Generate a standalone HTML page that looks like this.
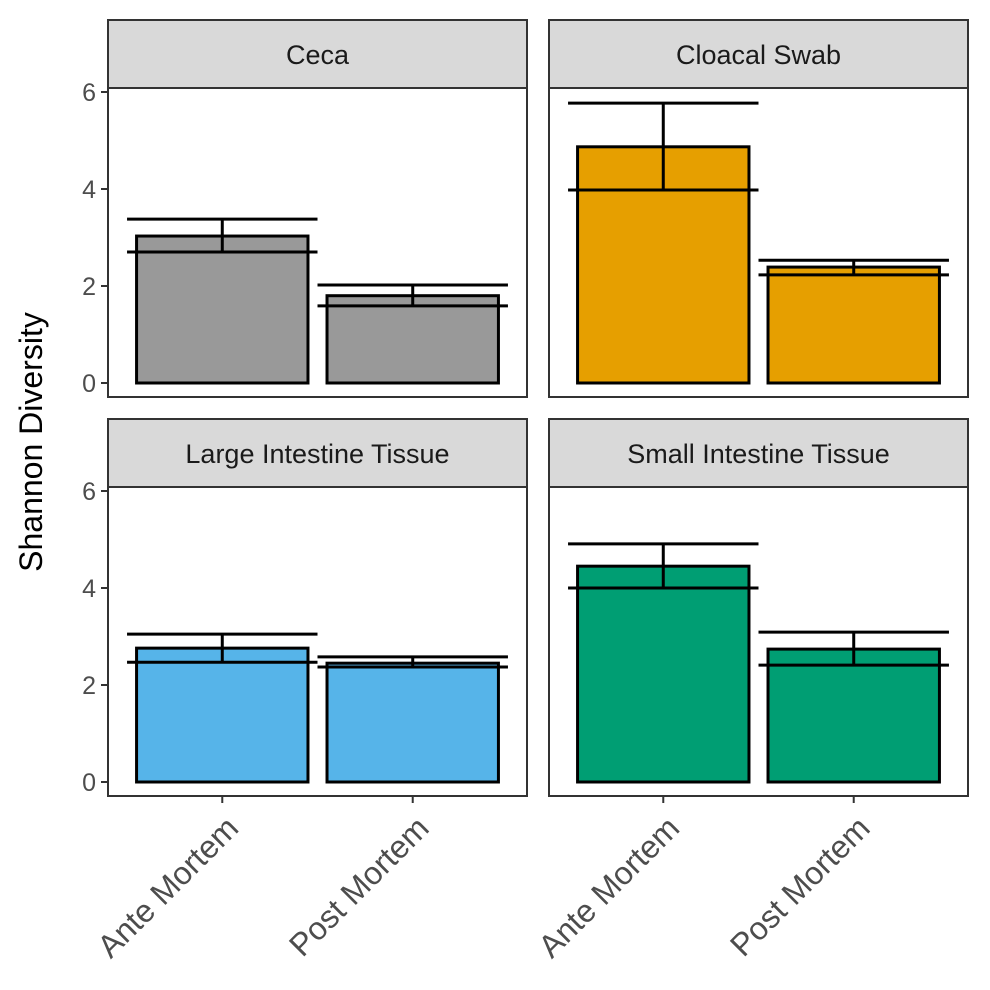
<!DOCTYPE html>
<html><head><meta charset="utf-8">
<style>
html,body{margin:0;padding:0;background:#fff;}
svg{display:block;font-family:"Liberation Sans",Arial,sans-serif;}
</style></head>
<body>
<svg id="chart" width="990" height="990" viewBox="0 0 990 990"></svg>
<script>
const panels = ["Ceca","Cloacal Swab","Large Intestine Tissue","Small Intestine Tissue"];
const categories = ["Ante Mortem","Post Mortem"];
const meanValues = [[3.03,1.80],[4.87,2.39],[2.76,2.45],[4.45,2.74]];
const lowerValues = [[2.70,1.59],[3.98,2.23],[2.47,2.37],[4.00,2.41]];
const upperValues = [[3.38,2.02],[5.77,2.53],[3.05,2.58],[4.91,3.09]];
const fillColors = ["#999999","#E69F00","#56B4E9","#009E73"];
const yTicks = [0,2,4,6];

const NS="http://www.w3.org/2000/svg";
const svg=document.getElementById('chart');
function mk(tag,attrs,parent){const e=document.createElementNS(NS,tag);for(const k in attrs)e.setAttribute(k,attrs[k]);(parent||svg).appendChild(e);return e;}

const layout=[{x0:108,x1:527,top:20},{x0:549,x1:968,top:20},{x0:108,x1:527,top:419},{x0:549,x1:968,top:419}];
const stripH=68, plotH=309;
panels.forEach((name,p)=>{
  const L=layout[p];
  const pTop=L.top+stripH, pBot=pTop+plotH;
  const zeroY=pBot-14;
  const unit=(L.x1-L.x0)/2.2;
  const xs=i=>L.x0+(i+1-0.4)*unit;
  const ys=v=>zeroY-v*48.5;
  const g=mk('g',{});
  
  
  const strip=mk('rect',{x:L.x0,y:L.top,width:L.x1-L.x0,height:stripH,fill:'#d9d9d9',stroke:'#333',"stroke-width":2},g);
  
  const st=mk('text',{x:(L.x0+L.x1)/2,y:L.top+stripH/2+10,"text-anchor":"middle","font-size":27,fill:'#1a1a1a'},g);
  st.textContent=name;
  
  categories.forEach((c,i)=>{
    const cx=xs(i), w=0.9*unit;
    const bar=mk('rect',{x:cx-w/2,y:ys(meanValues[p][i]),width:w,height:ys(0)-ys(meanValues[p][i]),fill:fillColors[p],stroke:'#000',"stroke-width":3},g);
    
    const ew=unit/2;
    const eb=mk('path',{d:`M${cx-ew},${ys(upperValues[p][i])}H${cx+ew}M${cx-ew},${ys(lowerValues[p][i])}H${cx+ew}M${cx},${ys(upperValues[p][i])}V${ys(lowerValues[p][i])}`,stroke:'#000',"stroke-width":3,fill:'none'},g);
    
  });
  const fr=mk('rect',{x:L.x0,y:pTop,width:L.x1-L.x0,height:plotH,fill:'none',stroke:'#333',"stroke-width":2},g);
  
  if(p%2===0){
    yTicks.forEach(t=>{
      mk('line',{x1:L.x0-7,x2:L.x0,y1:ys(t),y2:ys(t),stroke:'#333',"stroke-width":2},g);
      const tl=mk('text',{x:L.x0-12,y:ys(t)+9,"text-anchor":"end","font-size":25,fill:'#4d4d4d'},g);
      tl.textContent=t;
      
    });
  }
  if(p>=2){
    categories.forEach((c,i)=>{
      const cx=xs(i);
      mk('line',{x1:cx,x2:cx,y1:pBot,y2:pBot+7,stroke:'#333',"stroke-width":2},g);
      const ax=cx+18, ay=pBot+34;
      const xl=mk('text',{x:ax,y:ay,"text-anchor":"end","font-size":32,fill:'#4d4d4d',transform:`rotate(-45 ${ax} ${ay})`},g);
      xl.textContent=c;
      
    });
  }
});
const yt=mk('text',{x:42,y:442,"text-anchor":"middle","font-size":32,fill:'#000',transform:'rotate(-90 42 442)'});
yt.textContent="Shannon Diversity";

</script>
</body></html>
